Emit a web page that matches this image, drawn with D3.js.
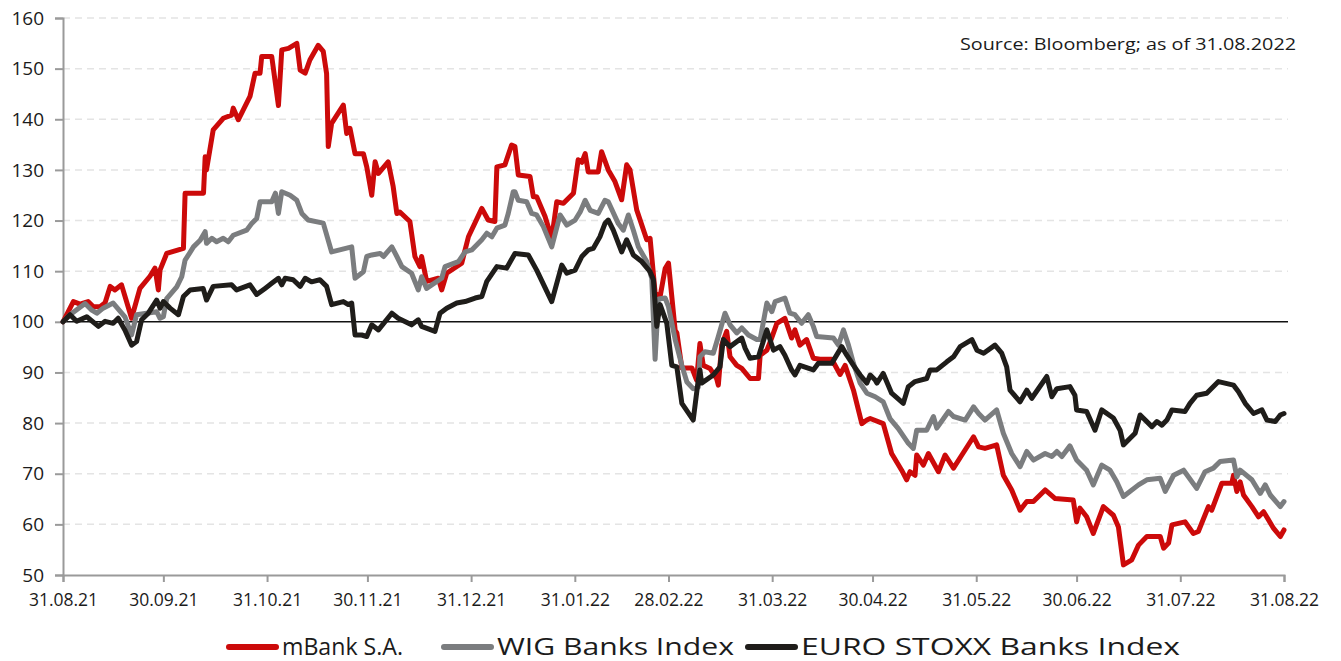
<!DOCTYPE html>
<html>
<head>
<meta charset="utf-8">
<script src="https://cdn.jsdelivr.net/npm/d3@7/dist/d3.min.js"></script>
<style>
  body { margin: 0; background: #fff; }
  svg { display: block; }
  text { font-family: "Open Sans", sans-serif; fill: #1b1b1b; }
</style>
</head>
<body>
<svg id="chart" width="1341" height="661"></svg>
<script>
// days since 31.08.2021, index value (31.08.2021 = 100)
const mbank = [[0,100],[3.1,104],[5.1,103.5],[7.5,104],[9,103],[11.1,103],[12.6,103.8],[14.1,107],[15.5,106.3],[17.5,107.3],[20.5,100.7],[23,106.6],[26,109],[27.5,110.6],[28.5,106.3],[29,110.2],[31,113.5],[36,114.5],[36.5,125.4],[42,125.4],[42.5,132.6],[42.9,130],[44.9,137.9],[47.9,140.2],[50.4,140.8],[50.9,142.2],[52.4,139.9],[55.9,144.5],[57.4,149.1],[58.9,149.1],[59.4,152.4],[62.4,152.4],[64.4,142.7],[65.4,153.7],[67.4,154],[69.9,155],[70.9,149.7],[72.4,149.1],[73.8,151.7],[76.3,154.6],[77.8,153.4],[78.8,149],[79.3,134.6],[80.3,139.2],[83.8,142.8],[84.8,137.2],[85.8,138.2],[87.3,133.2],[89.8,133.2],[90.8,130.6],[92.3,125],[93.3,131.6],[94.3,129.3],[97.2,131.6],[98.7,126.7],[99.8,121.4],[100.7,121.7],[103.7,119.8],[105.2,112.9],[106.7,110.9],[107.2,112.9],[108.7,108],[112.2,108.6],[113.2,106.3],[114.7,109.6],[119.2,111.6],[121.2,116.8],[125.2,122.4],[127.1,120.1],[129.1,119.8],[129.7,130.6],[132.1,131],[134.1,134.9],[135.1,134.6],[136.1,129],[139.6,128.7],[140.6,124.7],[141.6,124.7],[144.1,120.8],[146.1,116.5],[147.6,123.7],[149.6,123.4],[152.6,125.4],[154,132],[155.1,131.5],[156.1,133.2],[157,129.6],[160,129.6],[161,133.6],[163,130],[165,127.7],[167,124.1],[168.5,131],[169.5,130],[171.5,122.1],[174.5,116.2],[175.5,116.5],[177,105.7],[178.5,105],[180,110.5],[181,111.6],[183,98.3],[183.5,97.8],[185,90.9],[188,90.9],[189.4,88.5],[190.4,95.7],[191.4,91.4],[193.4,90.8],[195.4,88.8],[195.9,87.5],[196.9,95.4],[198.4,98.1],[199.4,93.1],[201.4,91.4],[202.9,90.8],[205.4,88.8],[207.9,88.8],[208.4,93.4],[210.4,94.4],[211.4,96],[213.4,99.7],[215.8,100.7],[217.8,96.8],[218.8,98.4],[220.3,95.4],[222.3,96.5],[224.3,92.8],[226.3,92.6],[229.8,92.6],[232.3,89.6],[233.8,91.4],[236.3,86.5],[238.8,79.9],[240.3,80.6],[241.3,80.9],[245.2,79.9],[247.7,74],[250.7,70.7],[252.2,68.8],[253.2,70.4],[254.7,69.7],[255.2,73.7],[257.2,71.7],[258.7,74],[261.7,70.4],[263.7,73.7],[266.2,71.1],[268.7,73.7],[272.2,77.3],[273.7,75.3],[275.6,75],[279.1,75.7],[281.1,69.7],[283.6,66.8],[286.1,62.8],[288.1,64.5],[290.1,64.5],[293.6,66.8],[296.6,65.1],[302,64.8],[303,60.5],[304,63.2],[306,61.5],[308,58.2],[311,63.5],[314,61.8],[315.5,59.5],[317,52],[319.5,53],[321.5,55.9],[324,57.6],[328,57.6],[329,55.3],[330.5,56.3],[331.5,59.9],[335.4,60.5],[337.9,58.2],[339.4,58.6],[342.4,63.5],[343.4,62.8],[346.4,68.1],[349.4,68.1],[349.9,69.7],[350.9,66.5],[351.9,68.4],[352.9,65.8],[355.4,63.5],[357.4,61.5],[358.9,62.5],[361.9,59.2],[363.9,57.6],[365,58.9]];

const wigBanks = [[0,100],[2.1,101.4],[6.6,103.6],[8.6,102.3],[10.1,101.7],[12,102.7],[15,103.7],[18.5,101],[20.5,97.4],[22,101.4],[28,102],[29,100.7],[30,101],[31,104.6],[34,106.9],[35.5,108.9],[36.5,112.2],[37.5,113.2],[39,114.8],[41,116.1],[42.5,117.8],[42.9,115.5],[44.5,116.5],[45.9,115.8],[47.9,116.5],[49.4,115.8],[50.9,117.1],[54.9,118.1],[56.4,119.4],[57.9,120.4],[58.9,123.7],[62.4,123.7],[63.5,125.4],[64.4,121.4],[65.4,125.7],[67.9,125],[69.9,124],[71.4,121.4],[73.3,120.1],[77.8,119.5],[80.3,113.8],[86.3,114.8],[87.3,108.6],[89.8,109.9],[90.8,112.9],[92.3,113.2],[94.8,113.5],[95.8,112.9],[98.3,114.8],[99.8,112.9],[101.3,110.9],[104.2,109.6],[106.2,106.3],[107.2,108.9],[108.7,106.6],[113.2,108.6],[114.2,110.9],[118.2,111.9],[120.2,113.8],[122.2,114.2],[125.2,116.2],[126.7,117.5],[128.2,116.8],[129.7,118.5],[132.1,119.1],[133.1,121.4],[134.6,125.7],[135.1,125.7],[136.1,124],[138.6,123.7],[140.1,121.4],[141.6,121.1],[143.6,118.8],[146.1,114.8],[148.6,121.1],[150.6,119.1],[153.1,120.1],[154.6,121.7],[156.1,124],[157.6,122],[160,121.4],[162,124],[163,123.7],[166,119.4],[167.5,118.1],[169,121.1],[170.5,118.1],[172,114.8],[174.5,111.9],[176,108.6],[177,92.6],[178,104.5],[180,104.7],[181,103],[183,96.5],[185,91.4],[186.5,88.1],[188.4,86.8],[189.9,87.1],[190.4,93.1],[191.9,94.1],[194.4,93.8],[195.9,97.1],[197.9,101.7],[199.4,99.4],[201.4,97.8],[202.9,98.8],[204.9,97.4],[207.4,96.5],[208.4,96.5],[210.4,103.7],[211.9,102],[212.9,104],[215.8,104.7],[217.3,101.7],[218.8,101.4],[220.8,99.7],[222.8,101.4],[224.3,99.1],[225.3,97.1],[230.3,96.8],[231.8,95.4],[233.3,98.4],[234.8,95.4],[236.3,91.8],[238.3,87.9],[240.3,85.9],[242.8,85.2],[245.2,84.2],[247.2,80.9],[249.7,78.9],[252.7,76],[254.2,75],[255.2,78.6],[258.2,78.6],[260.2,81.3],[261.2,79],[264.7,82.3],[266.2,81.3],[269.7,80.6],[272.2,83.2],[273.7,81.9],[275.6,80.6],[279.1,82.6],[281.1,78],[283.6,74],[286.1,71.4],[288.1,74.4],[290.1,72.7],[293.6,74],[295.6,73.4],[297.1,74.4],[298.6,73.4],[301,75.5],[303,72.7],[306,70.7],[308,67.8],[310.5,71.7],[313,70.7],[315,68.4],[317,65.5],[321.5,67.8],[324,68.8],[328,69.1],[329.5,66.5],[332,69.7],[335,70.7],[338.9,67.1],[341.4,70.4],[343.9,71.1],[345.9,72.4],[349.9,72.7],[350.9,69.4],[351.9,70.7],[355.4,68.8],[357.9,66.1],[359.4,67.8],[360.9,65.8],[363.9,63.5],[365,64.5]];

const euroStoxxBanks = [[0,100],[2.1,101.4],[4.1,100.1],[7.1,101],[10.6,99.1],[12.6,100.1],[15,99.7],[16.5,100.7],[18.5,98.4],[20.5,95.4],[22,96.1],[23.5,100.4],[25.5,101.7],[28,104.3],[29,102.7],[30,104],[32,102.7],[34.5,101.4],[36,105],[38,106.3],[41.9,106.6],[42.9,104.3],[44.9,107],[50.4,107.3],[51.9,106.3],[55.9,107.3],[57.9,105.4],[60.4,106.6],[62.4,107.6],[64.4,108.6],[65.4,107.3],[66.4,108.6],[68.8,108.3],[70.9,107],[72.4,108.6],[74.3,107.9],[76.8,108.3],[78.8,107],[80.3,103.4],[83.8,104],[85.3,103.4],[86.3,103.7],[87.3,97.4],[89.3,97.4],[90.8,97.1],[92.3,99.4],[94.3,98.4],[98.3,101.7],[100.2,100.7],[104.2,99.4],[106.2,100.4],[107.2,99.1],[111.2,98.1],[112.7,101.7],[114.7,102.7],[117.7,103.7],[120.2,104],[123.2,104.7],[125.2,105],[126.7,108],[129.7,110.9],[132.6,110.6],[135.1,113.5],[139.1,113.2],[141.6,110.2],[146.1,104],[149.1,111.2],[150.6,109.6],[153.1,110.2],[155.1,112.9],[157,114.2],[158.5,114.5],[160.5,116.8],[162,119.4],[163,120.1],[164.5,118.1],[167,113.8],[168.5,116.2],[170.5,113.2],[173,111.9],[175.5,109.9],[176.5,108.3],[177.5,99.1],[178.5,103.4],[180.5,99.7],[182,91.4],[183.5,91.1],[185,83.9],[188.4,80.6],[189.9,88.5],[190.4,90.5],[190.9,87.9],[194.4,89.5],[196.4,91.1],[197.4,96.5],[199.4,95.1],[202.9,96.8],[203.9,94.8],[205.4,92.8],[207.9,93.1],[210.4,98.4],[212.4,94.4],[214.3,95.1],[215.8,93.4],[217.8,90.5],[218.8,89.5],[220.3,91.4],[224.3,90.5],[225.8,91.8],[229.8,91.8],[232.8,95.1],[234.3,93.4],[236.3,91.4],[238.3,89.5],[240.3,87.9],[241.3,89.5],[242.8,88.5],[243.3,87.9],[245.2,89.8],[247.7,85.9],[251.2,83.9],[252.7,87.2],[254.7,88.2],[258.2,88.8],[259.2,90.5],[261.2,90.5],[264.2,92.1],[266.2,93.1],[268.2,95.1],[271.7,96.5],[273.2,94.4],[275.2,93.8],[278.6,95.4],[280.6,93.8],[282.1,91.1],[283.1,86.5],[286.1,84.2],[288.1,86.5],[289.6,84.9],[294.1,89.2],[295.6,85.2],[297.1,86.8],[301,87.2],[302.5,85.5],[303,82.6],[306,82.3],[308.5,78.6],[310.5,82.6],[314,81],[316,78.6],[317,75.7],[319,77],[320.5,78],[322,81.6],[325.5,79.3],[327,80.3],[328.5,79.6],[330,80.6],[331.5,82.6],[335.4,82.3],[336.9,83.9],[338.9,85.5],[341.9,85.9],[345.4,88.2],[349.9,87.5],[351.4,86.2],[353.4,83.9],[355.9,81.9],[358.4,82.6],[359.9,80.6],[362.4,80.3],[363.9,81.6],[365,81.9]];

const seriesNames = ["mBank S.A.", "WIG Banks Index", "EURO STOXX Banks Index"];
const seriesColors = ["#cc0a0a", "#7b7d7f", "#1f1d1a"];
const xTickLabels = ["31.08.21","30.09.21","31.10.21","30.11.21","31.12.21","31.01.22","28.02.22","31.03.22","30.04.22","31.05.22","30.06.22","31.07.22","31.08.22"];
const yTicks = [50,60,70,80,90,100,110,120,130,140,150,160];
const sourceNote = "Source: Bloomberg; as of 31.08.2022";

const svg = d3.select("#chart");
const plotLeft = 63, plotRight = 1284, plotTop = 18, plotBottom = 575;

const parseDay = d3.utcParse("%d.%m.%y");
const startDate = parseDay(xTickLabels[0]);
const toDate = d => new Date(startDate.getTime() + d * 864e5);

const x = d3.scaleUtc()
    .domain([startDate, parseDay(xTickLabels[xTickLabels.length - 1])])
    .range([plotLeft, plotRight]);
const y = d3.scaleLinear().domain([50, 160]).range([plotBottom, plotTop]);

// dashed grid
svg.append("g")
    .selectAll("line")
    .data(yTicks.filter(v => v !== 50 && v !== 100))
    .join("line")
    .attr("x1", plotLeft).attr("x2", plotRight + 4)
    .attr("y1", d => y(d)).attr("y2", d => y(d))
    .attr("stroke", "#e4e4e4")
    .attr("stroke-width", 1.5)
    .attr("stroke-dasharray", "7,5");

// y axis
const yAxis = svg.append("g")
    .attr("transform", `translate(${plotLeft},0)`)
    .call(d3.axisLeft(y).tickValues(yTicks).tickSize(8).tickPadding(11));
yAxis.select(".domain").attr("stroke", "#9a9a9a").attr("stroke-width", 2);
yAxis.selectAll(".tick line").attr("stroke", "#9a9a9a").attr("stroke-width", 2);
yAxis.selectAll(".tick text")
    .style("font-family", "'Open Sans', sans-serif")
    .style("font-size", "19px")
    .attr("fill", "#1b1b1b");

// x axis
const xAxis = svg.append("g")
    .attr("transform", `translate(0,${plotBottom})`)
    .call(d3.axisBottom(x)
        .tickValues(xTickLabels.map(parseDay))
        .tickFormat(d3.utcFormat("%d.%m.%y"))
        .tickSize(7).tickPadding(12));
xAxis.select(".domain").attr("stroke", "#9a9a9a").attr("stroke-width", 2);
xAxis.selectAll(".tick line").attr("stroke", "#9a9a9a").attr("stroke-width", 2);
xAxis.selectAll(".tick text")
    .style("font-family", "'Open Sans', sans-serif")
    .style("font-size", "17.5px")
    .attr("fill", "#1b1b1b");

// base 100 line
svg.append("line")
    .attr("x1", plotLeft).attr("x2", plotRight + 4)
    .attr("y1", y(100)).attr("y2", y(100))
    .attr("stroke", "#111").attr("stroke-width", 1.6);

// series
const line = d3.line()
    .x(d => x(toDate(d[0])))
    .y(d => y(d[1]))
    .curve(d3.curveLinear);

[mbank, wigBanks, euroStoxxBanks].forEach((s, i) => {
    svg.append("path")
        .datum(s)
        .attr("fill", "none")
        .attr("stroke", seriesColors[i])
        .attr("stroke-width", 5)
        .attr("stroke-linejoin", "round")
        .attr("stroke-linecap", "round")
        .attr("d", line);
});

// source note
svg.append("text")
    .attr("x", 1296).attr("y", 50)
    .attr("text-anchor", "end")
    .style("font-size", "17px")
    .attr("textLength", 336)
    .attr("lengthAdjust", "spacingAndGlyphs")
    .text(sourceNote);

// legend
const legendX = [229, 444, 748];
const legendW = [121, 237, 379];
const legend = svg.append("g");
seriesNames.forEach((name, i) => {
    legend.append("line")
        .attr("x1", legendX[i]).attr("x2", legendX[i] + 47)
        .attr("y1", 647).attr("y2", 647)
        .attr("stroke", seriesColors[i])
        .attr("stroke-width", 6)
        .attr("stroke-linecap", "round");
    legend.append("text")
        .attr("x", legendX[i] + 53).attr("y", 655)
        .style("font-size", "23.5px")
        .attr("textLength", legendW[i])
        .attr("lengthAdjust", "spacingAndGlyphs")
        .text(name);
});
</script>
</body>
</html>
